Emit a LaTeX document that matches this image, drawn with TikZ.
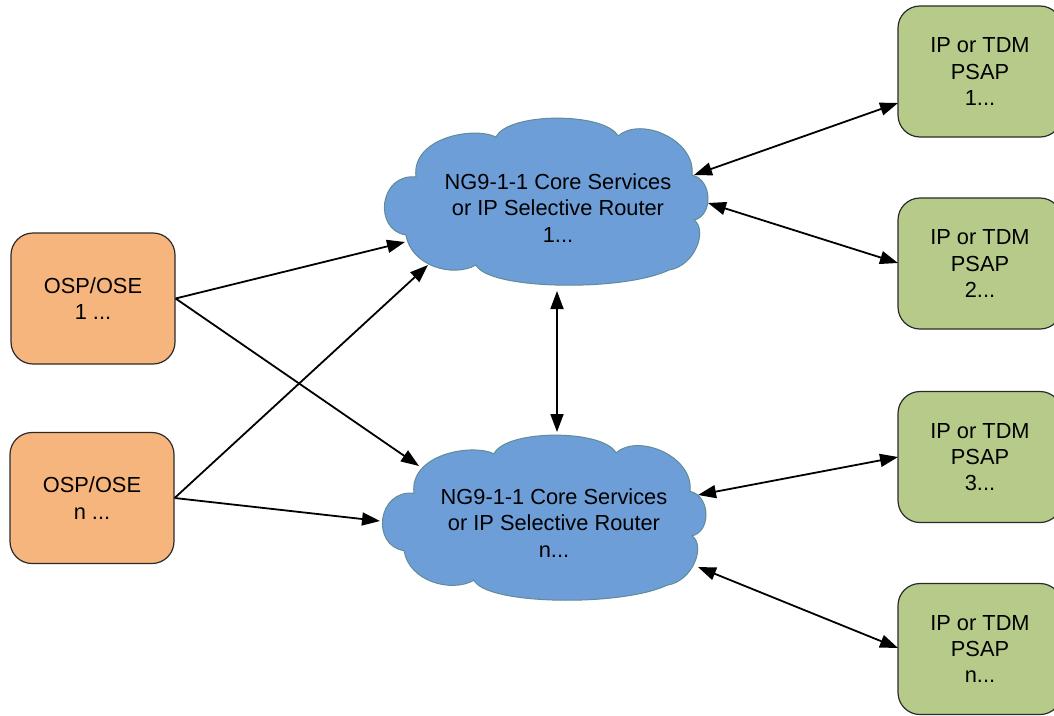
\documentclass[tikz,border=0pt]{standalone}
\usepackage{fontspec}
\setmainfont{Liberation Sans}
\usetikzlibrary{arrows.meta}
\definecolor{ospfill}{HTML}{F7B57E}
\definecolor{psapfill}{HTML}{B6CA89}
\definecolor{cloudfill}{HTML}{6E9ED8}
\definecolor{cloudline}{HTML}{5E8C99}
\definecolor{boxline}{HTML}{2B2B2B}
% cloud outline drawn in a 325 x 169 frame, then shifted and scaled
\newcommand\drawcloud[4]{%
 \filldraw[cloudsty, shift={(#1,#2)}, xscale=#3/325, yscale=#4/169]
  (33,59) .. controls (-4,55) and (-10,112) .. (23,117)
  .. controls (28,148) and (70,160) .. (93,147)
  .. controls (105,172) and (240,174) .. (286,152)
  .. controls (312,148) and (325,112) .. (311,102)
  .. controls (330,98) and (330,62) .. (309,57)
  .. controls (313,22) and (258,-2) .. (235,18)
  .. controls (222,-6) and (125,-6) .. (113,19)
  .. controls (90,8) and (28,20) .. (33,59)
  -- cycle;}
\begin{document}
\begin{tikzpicture}[x=1pt,y=-1pt,
  basebox/.style={draw=boxline, line width=1.2pt, rounded corners=22pt,
    minimum width=164pt, minimum height=131pt, align=center, inner sep=0pt,
    font=\fontsize{21.8pt}{26.3pt}\selectfont},
  ospbox/.style={basebox, fill=ospfill},
  psapbox/.style={basebox, fill=psapfill},
  cloudsty/.style={fill=cloudfill, draw=cloudline, line width=1pt},
  cloudtext/.style={align=center, inner sep=0pt, font=\fontsize{21.8pt}{26.3pt}\selectfont},
  arr/.style={line width=1.8pt, -{Triangle[length=18pt,width=13pt]}},
  dblarr/.style={line width=1.8pt, {Triangle[length=18pt,width=13pt]}-{Triangle[length=18pt,width=13pt]}}]
\useasboundingbox (0,0) rectangle (1054,715);
\fill[white] (0,0) rectangle (1054,715);

\drawcloud{383}{118}{325}{169}
\drawcloud{381}{435}{325}{167}

\node[cloudtext] (core1) at (558,208) {NG9-1-1 Core Services\\or IP Selective Router\\1...};
\node[cloudtext] (coren) at (554,523) {NG9-1-1 Core Services\\or IP Selective Router\\n...};

\node[ospbox] (osp1) at (93,298.5) {OSP/OSE\\1 ...};
\node[ospbox] (ospn) at (92,498) {OSP/OSE\\n ...};

\node[psapbox] (psap1) at (980,71.5) {IP or TDM\\PSAP\\1...};
\node[psapbox] (psap2) at (980,263.5) {IP or TDM\\PSAP\\2...};
\node[psapbox] (psap3) at (980,457) {IP or TDM\\PSAP\\3...};
\node[psapbox] (psapn) at (980,649) {IP or TDM\\PSAP\\n...};

% connector end points on the cloud outlines
\coordinate (c1a) at (405,242);
\coordinate (c1b) at (428,265);
\coordinate (c1c) at (694,175);
\coordinate (c1d) at (708,203);
\coordinate (c1e) at (557,291);
\coordinate (cna) at (419,466);
\coordinate (cnb) at (380,521);
\coordinate (cnc) at (698,495);
\coordinate (cnd) at (698,567);
\coordinate (cne) at (557,432);
% connector end points on the PSAP boxes
\coordinate (p1) at (898,103);
\coordinate (p2) at (898,263);
\coordinate (p3) at (898,457);
\coordinate (pn) at (898,648);

\draw[arr] (osp1.east) -- (c1a);
\draw[arr] (osp1.east) -- (cna);
\draw[arr] (ospn.east) -- (c1b);
\draw[arr] (ospn.east) -- (cnb);
\draw[dblarr] (c1c) -- (p1);
\draw[dblarr] (c1d) -- (p2);
\draw[dblarr] (cnc) -- (p3);
\draw[dblarr] (cnd) -- (pn);
\draw[dblarr] (c1e) -- (cne);
\end{tikzpicture}
\end{document}
